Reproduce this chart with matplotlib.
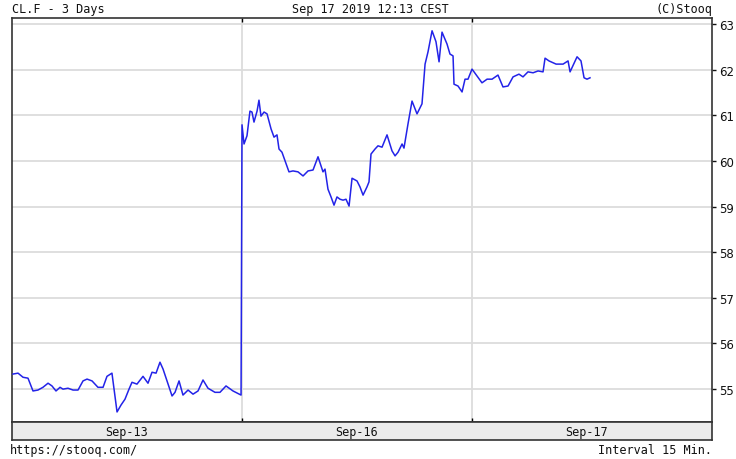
import matplotlib
matplotlib.use('Agg')
import matplotlib.pyplot as plt

# hours since Sep-13 00:00 on the compressed 3-day axis, and CL.F price
hours = [0.10, 0.63, 1.15, 1.67, 2.19, 2.71, 3.23, 3.76, 4.17, 4.59, 5.01, 5.32,
         5.84, 6.37, 6.89, 7.41, 7.83, 8.35, 8.97, 9.50, 9.91, 10.43, 10.96, 11.37,
         11.79, 12.21, 12.52, 13.04, 13.67, 14.19, 14.61, 15.03, 15.44, 15.76, 16.70,
         17.01, 17.43, 17.84, 18.37, 18.89, 19.41, 19.93, 20.45, 21.18, 21.70, 22.33,
         23.06, 23.90,
         24.00, 24.21, 24.52, 24.83, 25.04, 25.25, 25.57, 25.77, 25.98, 26.30, 26.61,
         27.03, 27.34, 27.65, 27.86, 28.17, 28.49, 28.90, 29.32, 29.84, 30.37, 30.89,
         31.41, 31.93, 32.35, 32.45, 32.66, 32.97, 33.29, 33.60, 33.91, 34.23, 34.54,
         34.85, 35.17, 35.48, 36.00, 36.31, 36.63, 37.04, 37.25, 37.46, 37.88, 38.19,
         38.61, 39.13, 39.65, 39.97, 40.28, 40.70, 40.90, 41.32, 41.74, 42.26, 42.78,
         43.10, 43.41, 43.83, 44.24, 44.56, 44.87, 45.39, 45.70, 46.02, 46.12, 46.54,
         46.96, 47.27, 47.58, 48.00, 48.52,
         49.04, 49.57, 50.09, 50.71, 51.23, 51.76, 52.28, 52.90, 53.32, 53.84, 54.37,
         54.89, 55.41, 55.62, 56.03, 56.77, 57.50, 58.02, 58.23, 58.96, 59.37, 59.69,
         60.00, 60.31]
prices = [55.33, 55.35, 55.26, 55.24, 54.96, 54.98, 55.04, 55.13, 55.07, 54.96, 55.04, 55.00,
          55.02, 54.98, 54.98, 55.18, 55.22, 55.18, 55.04, 55.04, 55.28, 55.35, 54.50, 54.65,
          54.78, 55.00, 55.15, 55.11, 55.28, 55.13, 55.37, 55.35, 55.59, 55.44, 54.85,
          54.93, 55.18, 54.87, 54.98, 54.89, 54.96, 55.20, 55.02, 54.93, 54.93, 55.07,
          54.96, 54.87,
          60.79, 60.37, 60.55, 61.09, 61.07, 60.85, 61.09, 61.33, 60.98, 61.07, 61.03,
          60.70, 60.52, 60.57, 60.26, 60.19, 60.00, 59.76, 59.78, 59.76, 59.67, 59.78,
          59.80, 60.09, 59.82, 59.76, 59.82, 59.38, 59.21, 59.03, 59.21, 59.16, 59.14,
          59.16, 59.01, 59.62, 59.56, 59.43, 59.25, 59.43, 59.54, 60.15, 60.26, 60.33,
          60.30, 60.57, 60.22, 60.11, 60.19, 60.37, 60.28, 60.81, 61.31, 61.03, 61.25,
          62.12, 62.39, 62.85, 62.61, 62.17, 62.82, 62.56, 62.34, 62.30, 61.68, 61.64,
          61.51, 61.79, 61.79, 62.01, 61.86,
          61.71, 61.79, 61.79, 61.88, 61.62, 61.64, 61.84, 61.90, 61.84, 61.95, 61.93,
          61.97, 61.95, 62.25, 62.19, 62.12, 62.12, 62.19, 61.95, 62.28, 62.19, 61.82,
          61.79, 61.82]

day_labels = ['Sep-13', 'Sep-16', 'Sep-17']
y_ticks = [55, 56, 57, 58, 59, 60, 61, 62, 63]

mono = 'DejaVu Sans Mono'
ink = '#111111'

fig = plt.figure(figsize=(7.36, 4.60), dpi=100)
fig.patch.set_facecolor('white')

ax = fig.add_axes([12 / 736, 1 - 423 / 460, 700 / 736, 404 / 460])
ax.set_xlim(0, 73.04)
ax.set_ylim(54.28, 63.13)

for y in y_ticks:
    ax.axhline(y, color='#dcdcdc', lw=1.3, zorder=1)
for d in [24, 48]:
    ax.axvline(d, color='#dcdcdc', lw=1.3, zorder=1)

ax.plot(hours, prices, color='#2323e8', lw=1.1, zorder=3)

ax.yaxis.tick_right()
ax.set_yticks(y_ticks)
ax.set_yticklabels([str(v) for v in y_ticks])
ax.tick_params(axis='y', direction='out', length=3, width=1, pad=2,
               labelsize=8.5, colors=ink)
ax.set_xticks([24, 48])
ax.tick_params(axis='x', top=True, bottom=True, direction='in', length=3,
               width=1, labelbottom=False)
for s in ax.spines.values():
    s.set_color('#333333')
    s.set_linewidth(1.2)

# date band below the plot
band = fig.add_axes([12 / 736, 1 - 441 / 460, 700 / 736, 18 / 460])
band.set_xlim(0, 73.04)
band.set_ylim(0, 1)
band.set_facecolor('#ebebeb')
band.set_xticks([])
band.set_yticks([])
for s in band.spines.values():
    s.set_color('#333333')
    s.set_linewidth(1.2)
for i, lab in enumerate(day_labels):
    band.text(12 + 24 * i, 0.45, lab, ha='center', va='center',
              family=mono, fontsize=8.5, color=ink)

fig.text(12 / 736, 1 - 10 / 460, 'CL.F - 3 Days', ha='left', va='center',
         family=mono, fontsize=8.5, color=ink)
fig.text(370 / 736, 1 - 10 / 460, 'Sep 17 2019 12:13 CEST', ha='center', va='center',
         family=mono, fontsize=8.5, color=ink)
fig.text(712 / 736, 1 - 10 / 460, '(C)Stooq', ha='right', va='center',
         family=mono, fontsize=8.5, color=ink)
fig.text(10 / 736, 1 - 451 / 460, 'https://stooq.com/', ha='left', va='center',
         family=mono, fontsize=8.5, color=ink)
fig.text(712 / 736, 1 - 451 / 460, 'Interval 15 Min.', ha='right', va='center',
         family=mono, fontsize=8.5, color=ink)

fig.savefig('out.png', dpi=100, facecolor='white')
